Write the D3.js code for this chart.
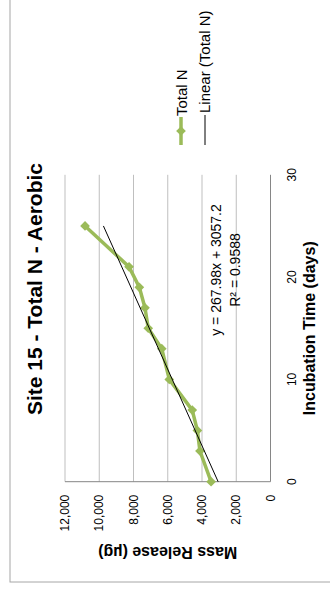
<!DOCTYPE html>
<html><head><meta charset="utf-8">
<script src="https://cdn.jsdelivr.net/npm/d3@7"></script>
<style>
html,body{margin:0;padding:0;background:#fff;}
svg{display:block;font-family:"Liberation Sans",Arial,sans-serif;}
</style></head>
<body>
<svg id="c" width="330" height="591"></svg>
<script>
// Data
const days = [0, 3, 5, 7, 10, 13, 15, 17, 19, 21, 25];
const totalN = [3470, 4120, 4270, 4570, 5910, 6350, 7140, 7330, 7660, 8260, 10830];
const trendSlope = 267.98;
const trendIntercept = 3057.2;
const trendR2 = 0.9588;
const yTicks = [0, 2000, 4000, 6000, 8000, 10000, 12000];
const xTicks = [0, 10, 20, 30];
const titleText = "Site 15 - Total N - Aerobic";
const xTitle = "Incubation Time (days)";
const yTitle = "Mass Release  (µg)";
const legendLabels = ["Total N", "Linear (Total N)"];

const green = "#9bbb59";
const svg = d3.select("#c");
// rotated frame: u (horizontal) -> screen y = 591 - u, v (vertical) -> screen x
const g = svg.append("g").attr("transform", "translate(0,591) rotate(-90)");

const x = d3.scaleLinear().domain([0, 30]).range([109.3, 416.2]);
const y = d3.scaleLinear().domain([0, 12000]).range([270.5, 65]);

// outer border
g.append("rect").attr("x", 9).attr("y", 10).attr("width", 640).attr("height", 400)
  .attr("fill", "none").attr("stroke", "#a6a6a6").attr("stroke-width", 1);

// gridlines
g.append("g").selectAll("line").data(yTicks.filter(d => d > 0)).join("line")
  .attr("x1", x(0)).attr("x2", x(30)).attr("y1", d => y(d)).attr("y2", d => y(d))
  .attr("stroke", "#bfbfbf").attr("stroke-width", 1);

// axis lines
g.append("line").attr("x1", x(0)).attr("x2", x(30)).attr("y1", y(0)).attr("y2", y(0))
  .attr("stroke", "#868686").attr("stroke-width", 1);
g.append("line").attr("x1", x(0)).attr("x2", x(0)).attr("y1", y(0)).attr("y2", y(12000))
  .attr("stroke", "#868686").attr("stroke-width", 1);

// y tick labels
const fmt = d3.format(",");
g.append("g").selectAll("text").data(yTicks).join("text")
  .attr("x", x(0) - 13).attr("y", d => y(d)).attr("dy", "0.35em")
  .attr("text-anchor", "end").attr("font-size", 12).attr("fill", "#000")
  .text(d => fmt(d));

// x tick labels
g.append("g").selectAll("text").data(xTicks).join("text")
  .attr("x", d => x(d)).attr("y", 296)
  .attr("text-anchor", "middle").attr("font-size", 12).attr("fill", "#000")
  .text(d => d);

// series line
const line = d3.line().x((d, i) => x(days[i])).y(d => y(d));
g.append("path").datum(totalN).attr("d", line)
  .attr("fill", "none").attr("stroke", green).attr("stroke-width", 3.5)
  .attr("stroke-linejoin", "round");

// markers
const diamond = d3.symbol().type(d3.symbolDiamond2).size(60);
g.append("g").selectAll("path").data(totalN).join("path")
  .attr("d", diamond)
  .attr("transform", (d, i) => `translate(${x(days[i])},${y(d)})`)
  .attr("fill", green);

// trendline
const trendDays = [0, 25];
g.append("path").datum(trendDays)
  .attr("d", d3.line().x(d => x(d)).y(d => y(trendSlope * d + trendIntercept)))
  .attr("fill", "none").attr("stroke", "#000").attr("stroke-width", 1);

// equation
g.append("text").attr("x", 321).attr("y", 221).attr("text-anchor", "middle")
  .attr("font-size", 14).text(`y = ${trendSlope}x + ${trendIntercept}`);
g.append("text").attr("x", 321).attr("y", 240).attr("text-anchor", "middle")
  .attr("font-size", 14).text(`R² = ${trendR2}`);

// title
g.append("text").attr("x", 302).attr("y", 42).attr("text-anchor", "middle")
  .attr("font-size", 21).attr("font-weight", "bold").text(titleText);

// axis titles
g.append("text").attr("x", x(15)).attr("y", 315).attr("text-anchor", "middle")
  .attr("font-size", 16).attr("font-weight", "bold").text(xTitle);
g.append("text").attr("transform", `translate(44,${(y(0) + y(12000)) / 2}) rotate(-90)`)
  .attr("text-anchor", "middle").attr("font-size", 16).attr("font-weight", "bold").text(yTitle);

// legend
const lg = g.append("g");
lg.append("line").attr("x1", 446).attr("x2", 474).attr("y1", 181).attr("y2", 181)
  .attr("stroke", green).attr("stroke-width", 3.5);
lg.append("path").attr("d", diamond).attr("transform", "translate(460,181)").attr("fill", green);
lg.append("text").attr("x", 475).attr("y", 186.5).attr("font-size", 15).text(legendLabels[0]);
lg.append("line").attr("x1", 446).attr("x2", 476).attr("y1", 205).attr("y2", 205)
  .attr("stroke", "#000").attr("stroke-width", 1);
lg.append("text").attr("x", 478).attr("y", 210).attr("font-size", 15).text(legendLabels[1]);
</script>
</body></html>
